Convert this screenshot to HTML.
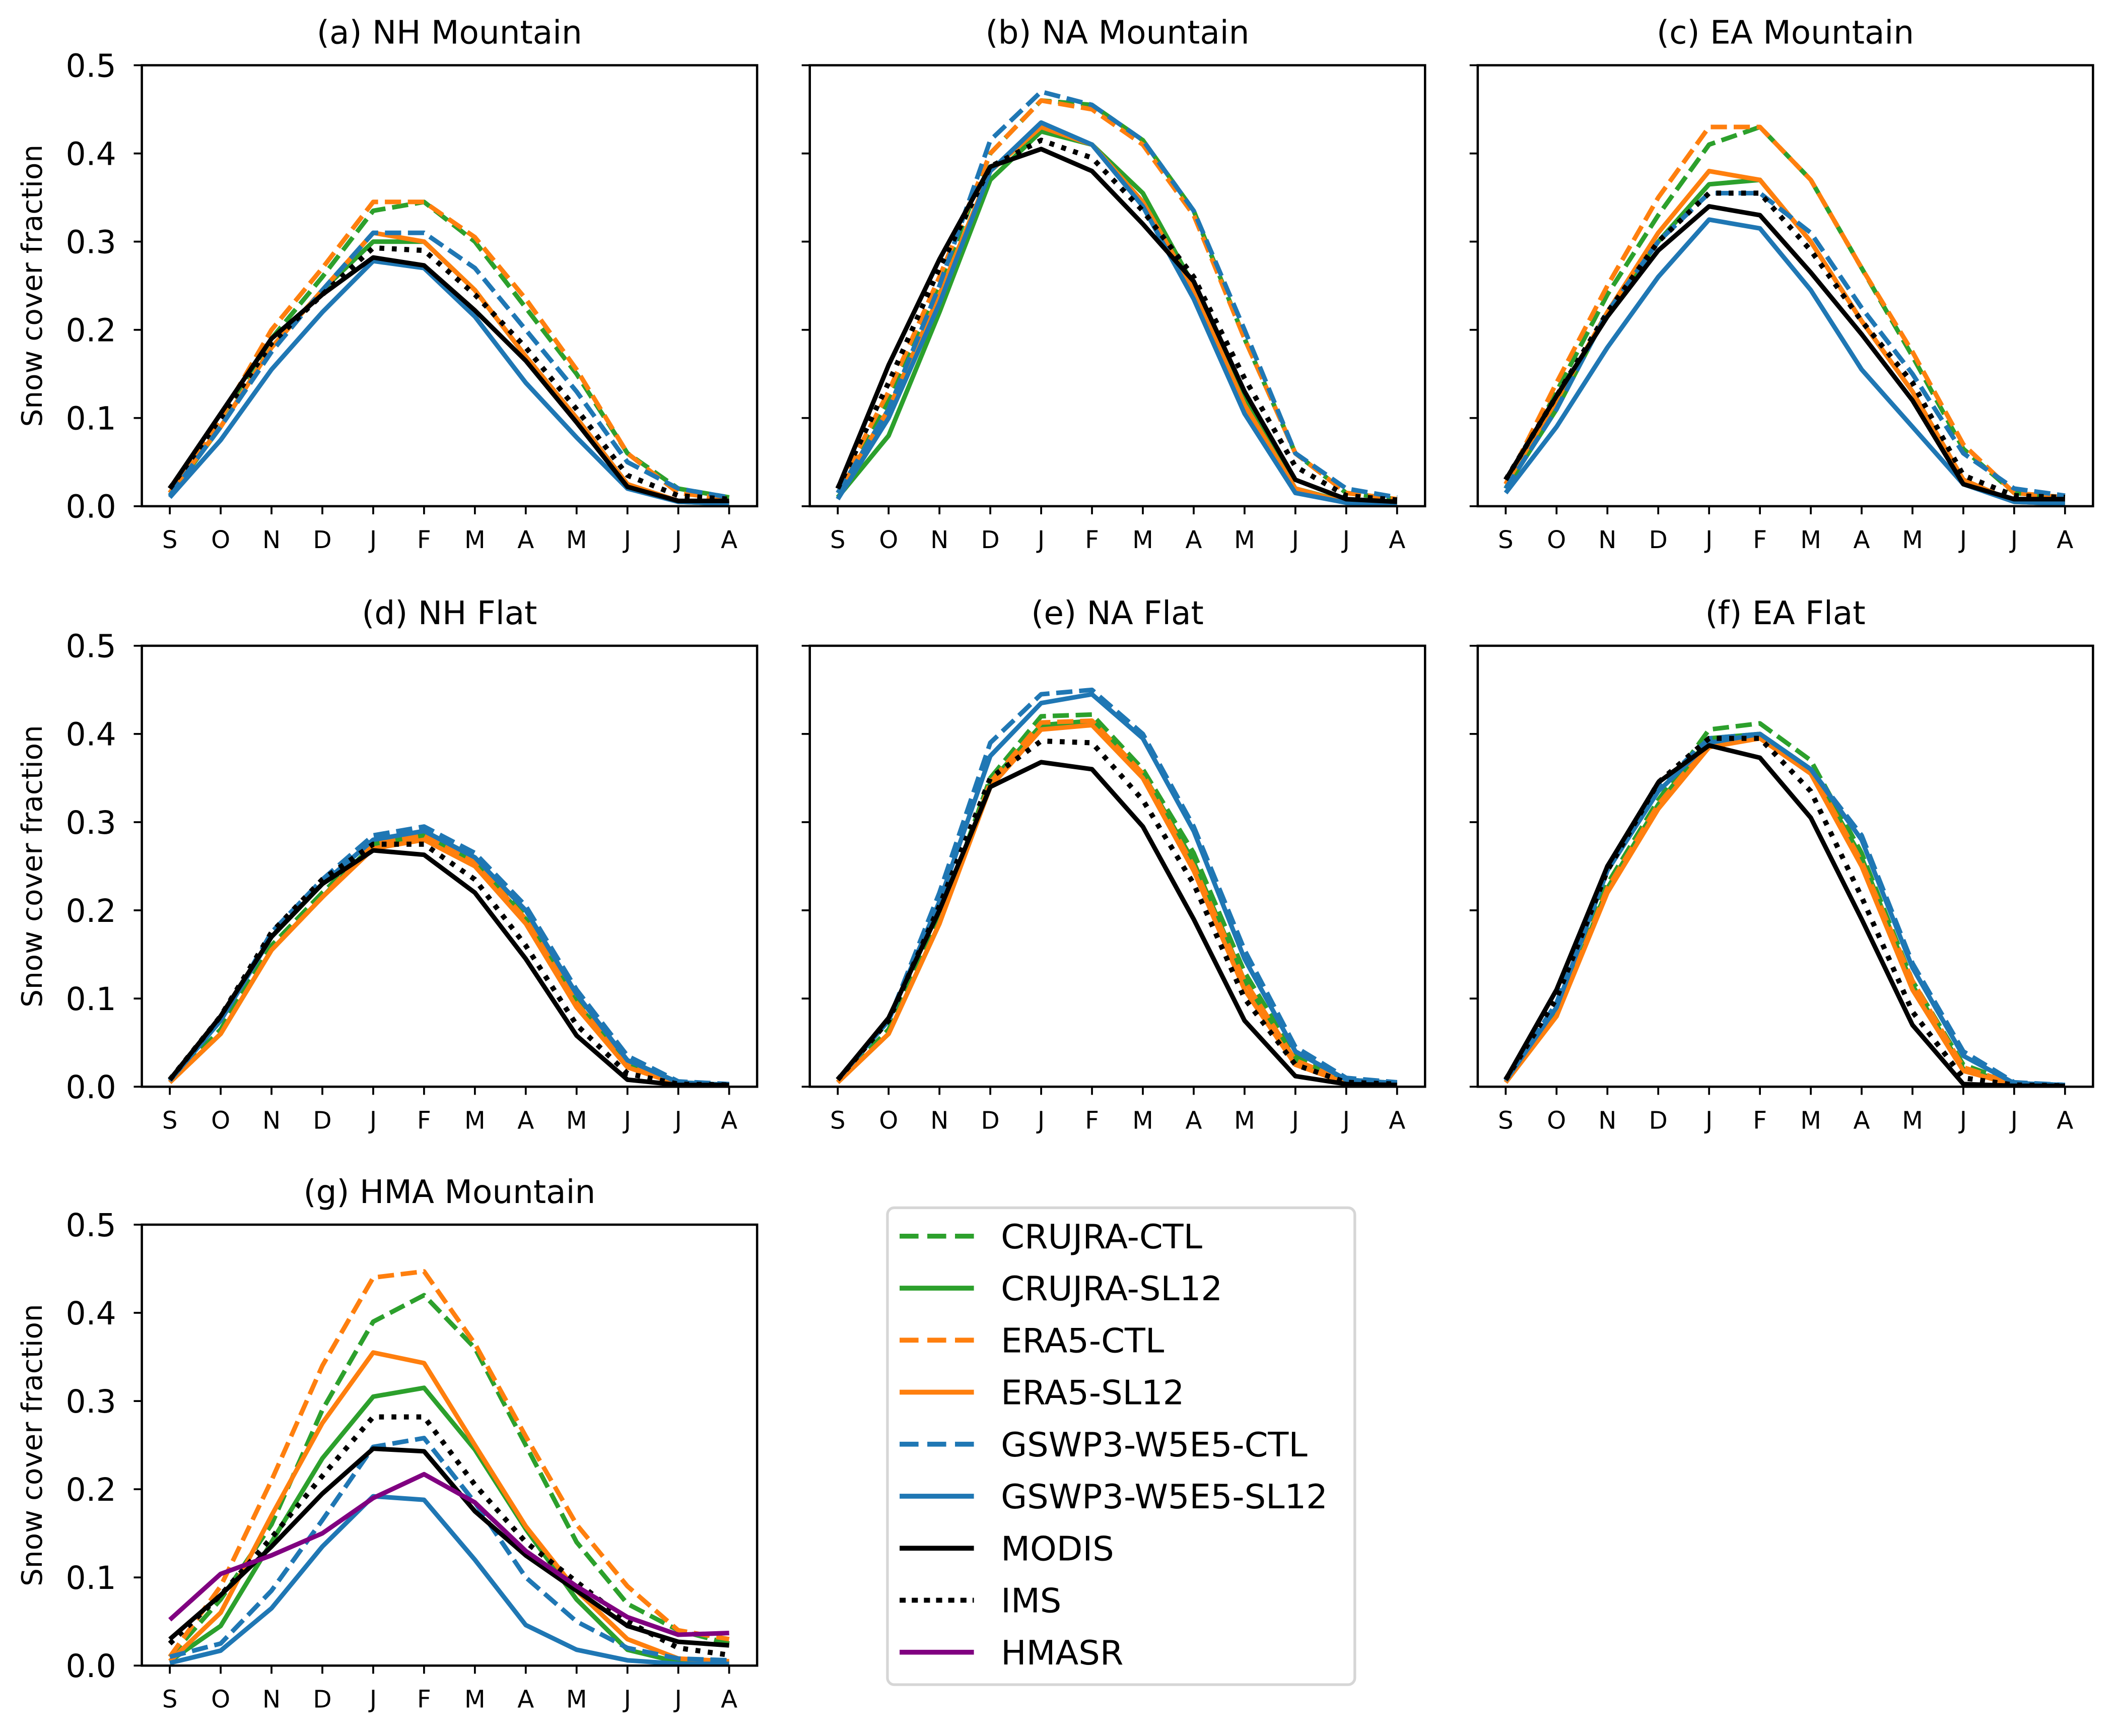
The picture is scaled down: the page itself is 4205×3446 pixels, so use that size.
<!DOCTYPE html>
<html><head><meta charset="utf-8"><style>
html,body{margin:0;padding:0;background:#fff}
svg{display:block}
text{font-family:"DejaVu Sans","Liberation Sans",sans-serif;fill:#000}
</style></head><body>
<svg id="fig" width="4205" height="3446" viewBox="0 0 1568 1285" xmlns="http://www.w3.org/2000/svg">
<rect width="1568" height="1285" fill="#fff"/>
</svg>
<script>
const months = ["S","O","N","D","J","F","M","A","M","J","J","A"];
const yTicks = [0.0,0.1,0.2,0.3,0.4,0.5];
const yTickLabels = ["0.0","0.1","0.2","0.3","0.4","0.5"];
const seriesNames = ["CRUJRA-CTL","CRUJRA-SL12","ERA5-CTL","ERA5-SL12","GSWP3-W5E5-CTL","GSWP3-W5E5-SL12","MODIS","IMS","HMASR"];
const panelTitles = ["(a) NH Mountain","(b) NA Mountain","(c) EA Mountain","(d) NH Flat","(e) NA Flat","(f) EA Flat","(g) HMA Mountain"];

// (a) NH Mountain
const a_cruCtl=[.015,.10,.19,.26,.335,.345,.30,.225,.15,.06,.02,.01];
const a_cruSl=[.012,.09,.18,.245,.30,.30,.245,.17,.10,.025,.005,.003];
const a_eraCtl=[.015,.10,.20,.27,.345,.345,.305,.235,.155,.06,.015,.008];
const a_eraSl=[.015,.09,.18,.245,.31,.30,.245,.17,.10,.025,.006,.003];
const a_gswCtl=[.012,.09,.175,.245,.31,.31,.27,.20,.13,.05,.02,.01];
const a_gswSl=[.01,.075,.155,.22,.278,.27,.215,.14,.078,.02,.005,.003];
const a_modis=[.02,.105,.19,.24,.282,.273,.222,.165,.095,.022,.006,.006];
const a_ims=[.02,.10,.185,.24,.293,.29,.24,.18,.11,.035,.012,.008];
// (b) NA Mountain
const b_cruCtl=[.02,.12,.25,.40,.46,.455,.415,.335,.19,.06,.015,.008];
const b_cruSl=[.01,.08,.22,.37,.425,.41,.355,.25,.12,.02,.005,.003];
const b_eraCtl=[.02,.13,.26,.40,.46,.45,.41,.33,.19,.06,.015,.008];
const b_eraSl=[.015,.11,.24,.38,.43,.41,.345,.245,.115,.02,.004,.002];
const b_gswCtl=[.015,.11,.25,.415,.47,.455,.415,.335,.20,.06,.02,.01];
const b_gswSl=[.008,.10,.23,.38,.435,.41,.34,.235,.105,.015,.004,.002];
const b_modis=[.02,.16,.28,.385,.405,.38,.32,.255,.13,.03,.008,.005];
const b_ims=[.02,.14,.27,.385,.415,.395,.335,.26,.145,.045,.012,.007];
// (c) EA Mountain
const c_cruCtl=[.02,.13,.24,.33,.41,.43,.37,.27,.17,.065,.015,.01];
const c_cruSl=[.02,.11,.22,.30,.365,.37,.30,.21,.13,.03,.005,.003];
const c_eraCtl=[.025,.14,.25,.35,.43,.43,.37,.27,.175,.07,.015,.01];
const c_eraSl=[.025,.12,.22,.31,.38,.37,.30,.21,.13,.03,.005,.003];
const c_gswCtl=[.02,.11,.22,.30,.355,.355,.31,.225,.15,.06,.02,.012];
const c_gswSl=[.015,.09,.18,.26,.325,.315,.245,.155,.09,.025,.005,.003];
const c_modis=[.03,.125,.215,.29,.34,.33,.265,.195,.12,.025,.008,.008];
const c_ims=[.03,.125,.22,.30,.355,.355,.29,.21,.14,.035,.012,.01];
// (d) NH Flat
const d_cruCtl=[.005,.065,.16,.22,.275,.29,.26,.195,.10,.03,.005,.002];
const d_cruSl=[.005,.06,.155,.215,.275,.285,.255,.19,.095,.025,.004,.002];
const d_eraCtl=[.005,.06,.155,.215,.275,.285,.255,.19,.095,.025,.004,.002];
const d_eraSl=[.005,.06,.155,.215,.27,.28,.25,.185,.09,.022,.003,.001];
const d_gswCtl=[.007,.075,.175,.235,.285,.295,.265,.205,.11,.035,.006,.003];
const d_gswSl=[.007,.075,.17,.23,.28,.29,.26,.20,.105,.03,.005,.002];
const d_modis=[.008,.08,.17,.23,.268,.263,.22,.145,.058,.008,.002,.002];
const d_ims=[.008,.08,.175,.235,.275,.275,.235,.16,.07,.015,.003,.002];
// (e) NA Flat
const e_cruCtl=[.005,.065,.19,.35,.42,.422,.36,.265,.13,.035,.008,.004];
const e_cruSl=[.005,.06,.185,.345,.41,.415,.355,.255,.12,.03,.006,.003];
const e_eraCtl=[.005,.06,.185,.345,.413,.415,.355,.25,.12,.03,.006,.003];
const e_eraSl=[.005,.06,.185,.34,.405,.41,.35,.245,.11,.025,.004,.002];
const e_gswCtl=[.008,.075,.22,.39,.445,.45,.40,.295,.155,.045,.01,.005];
const e_gswSl=[.008,.075,.21,.375,.435,.445,.395,.29,.145,.04,.008,.004];
const e_modis=[.008,.078,.20,.34,.368,.36,.295,.19,.075,.012,.003,.002];
const e_ims=[.008,.075,.205,.35,.392,.39,.325,.23,.10,.025,.005,.003];
// (f) EA Flat
const f_cruCtl=[.005,.085,.23,.325,.405,.412,.37,.265,.12,.025,.004,.002];
const f_cruSl=[.005,.08,.225,.32,.395,.40,.36,.26,.115,.02,.003,.001];
const f_eraCtl=[.005,.08,.225,.32,.39,.40,.36,.255,.12,.022,.003,.001];
const f_eraSl=[.005,.08,.22,.315,.385,.395,.355,.25,.11,.018,.002,.001];
const f_gswCtl=[.007,.095,.25,.34,.395,.40,.36,.285,.14,.04,.005,.002];
const f_gswSl=[.007,.09,.245,.335,.39,.40,.36,.28,.135,.035,.004,.002];
const f_modis=[.008,.11,.25,.345,.387,.373,.305,.19,.07,.003,.001,.001];
const f_ims=[.008,.10,.245,.345,.395,.395,.335,.215,.085,.01,.002,.001];
// (g) HMA Mountain
const g_cruCtl=[.01,.075,.16,.29,.39,.42,.36,.25,.14,.07,.04,.025];
const g_cruSl=[.005,.045,.14,.235,.305,.315,.245,.155,.075,.018,.004,.003];
const g_eraCtl=[.01,.09,.21,.34,.44,.447,.365,.26,.16,.09,.04,.03];
const g_eraSl=[.005,.06,.17,.275,.355,.343,.25,.158,.085,.03,.008,.005];
const g_gswCtl=[.01,.025,.085,.165,.248,.258,.185,.10,.05,.02,.008,.006];
const g_gswSl=[.003,.017,.065,.135,.192,.188,.12,.046,.018,.006,.002,.002];
const g_modis=[.03,.08,.135,.195,.246,.243,.175,.125,.085,.045,.027,.023];
const g_ims=[.025,.08,.145,.215,.282,.282,.205,.14,.095,.05,.02,.012];
const g_hmasr=[.052,.104,.125,.15,.19,.217,.185,.13,.09,.055,.035,.037];

const panelData=[
 [a_cruCtl,a_cruSl,a_eraCtl,a_eraSl,a_gswCtl,a_gswSl,a_modis,a_ims],
 [b_cruCtl,b_cruSl,b_eraCtl,b_eraSl,b_gswCtl,b_gswSl,b_modis,b_ims],
 [c_cruCtl,c_cruSl,c_eraCtl,c_eraSl,c_gswCtl,c_gswSl,c_modis,c_ims],
 [d_cruCtl,d_cruSl,d_eraCtl,d_eraSl,d_gswCtl,d_gswSl,d_modis,d_ims],
 [e_cruCtl,e_cruSl,e_eraCtl,e_eraSl,e_gswCtl,e_gswSl,e_modis,e_ims],
 [f_cruCtl,f_cruSl,f_eraCtl,f_eraSl,f_gswCtl,f_gswSl,f_modis,f_ims],
 [g_cruCtl,g_cruSl,g_eraCtl,g_eraSl,g_gswCtl,g_gswSl,g_modis,g_ims,g_hmasr]
];

const NS="http://www.w3.org/2000/svg";
const svg=document.getElementById('fig');
const colors=["#2ca02c","#2ca02c","#ff7f0e","#ff7f0e","#1f77b4","#1f77b4","#000000","#000000","#800080"];
const dashes=["12,5",null,"12,5",null,"12,5",null,null,"3.6,5.6",null];
const LW=3.4;
function mk(tag,attrs,parent){const e=document.createElementNS(NS,tag);for(const k in attrs)e.setAttribute(k,attrs[k]);(parent||svg).appendChild(e);return e;}
function slug(s){return s.toLowerCase().replace(/[^a-z0-9]+/g,'-').replace(/^-|-$/g,'');}

const boxLefts=[105,599.5,1094];
const boxTops=[48.3,478,906.5];
const boxW=455.5, boxH=326.4;

panelData.forEach((series,pi)=>{
  const col=pi%3,row=Math.floor(pi/3);
  const L=boxLefts[col],T=boxTops[row];
  const step=boxW/12.1;
  const xs=i=>L+step*(0.55+i);
  const ys=v=>T+boxH-(v/0.5)*boxH;
  const g=mk('g',{});
  
  
  const clipId='clip'+pi;
  const cp=mk('clipPath',{id:clipId},g);mk('rect',{x:L,y:T,width:boxW,height:boxH},cp);
  const lg=mk('g',{'clip-path':'url(#'+clipId+')'},g);
  series.forEach((vals,si)=>{
    const d=vals.map((v,i)=>(i?'L':'M')+xs(i).toFixed(2)+','+ys(v).toFixed(2)).join(' ');
    const p=mk('path',{d:d,fill:'none',stroke:colors[si],'stroke-width':LW,'stroke-linejoin':'round'},lg);
    if(dashes[si])p.setAttribute('stroke-dasharray',dashes[si]);
    if(si===7)p.setAttribute('stroke-width',3.8);
    
    
  });
  const fr=mk('rect',{x:L,y:T,width:boxW,height:boxH,fill:'none',stroke:'#000','stroke-width':1.7},g);
  
  
  yTicks.forEach((t,i)=>{
    mk('line',{x1:L-6,x2:L,y1:ys(t),y2:ys(t),stroke:'#000','stroke-width':1.4},g);
    if(col===0){
      const tx=mk('text',{x:L-19,y:ys(t)+8.5,'text-anchor':'end','font-size':23.5},g);
      tx.textContent=yTickLabels[i];
      
      
    }
  });
  months.forEach((m,i)=>{
    mk('line',{x1:xs(i),x2:xs(i),y1:T+boxH,y2:T+boxH+6,stroke:'#000','stroke-width':1.4},g);
    const tx=mk('text',{x:xs(i),y:T+boxH+31,'text-anchor':'middle','font-size':18},g);
    tx.textContent=m;
    
    
  });
  const tt=mk('text',{x:L+boxW/2,y:T-16,'text-anchor':'middle','font-size':24},g);
  tt.textContent=panelTitles[pi];
  
  
  if(col===0){
    const yl=mk('text',{x:0,y:0,'text-anchor':'middle','font-size':21,transform:'translate(31,'+(T+boxH/2)+') rotate(-90)'},g);
    yl.textContent='Snow cover fraction';
    
    
  }
});

// legend
const leg=mk('g',{});


mk('rect',{x:657,y:894,width:346,height:353,rx:5,fill:'#fff',stroke:'#d6d6d6','stroke-width':2},leg);
seriesNames.forEach((n,si)=>{
  const y=915+si*38.5;
  const e=mk('g',{},leg);
  
  
  const l=mk('line',{x1:666,x2:721,y1:y,y2:y,stroke:colors[si],'stroke-width':3.6},e);
  if(si===0||si===2||si===4)l.setAttribute('stroke-dasharray','14,6.5');
  if(si===7)l.setAttribute('stroke-dasharray','4.5,4.5');
  const t=mk('text',{x:741,y:y+9,'font-size':25},e);
  t.textContent=n;
});
</script>
</body></html>
